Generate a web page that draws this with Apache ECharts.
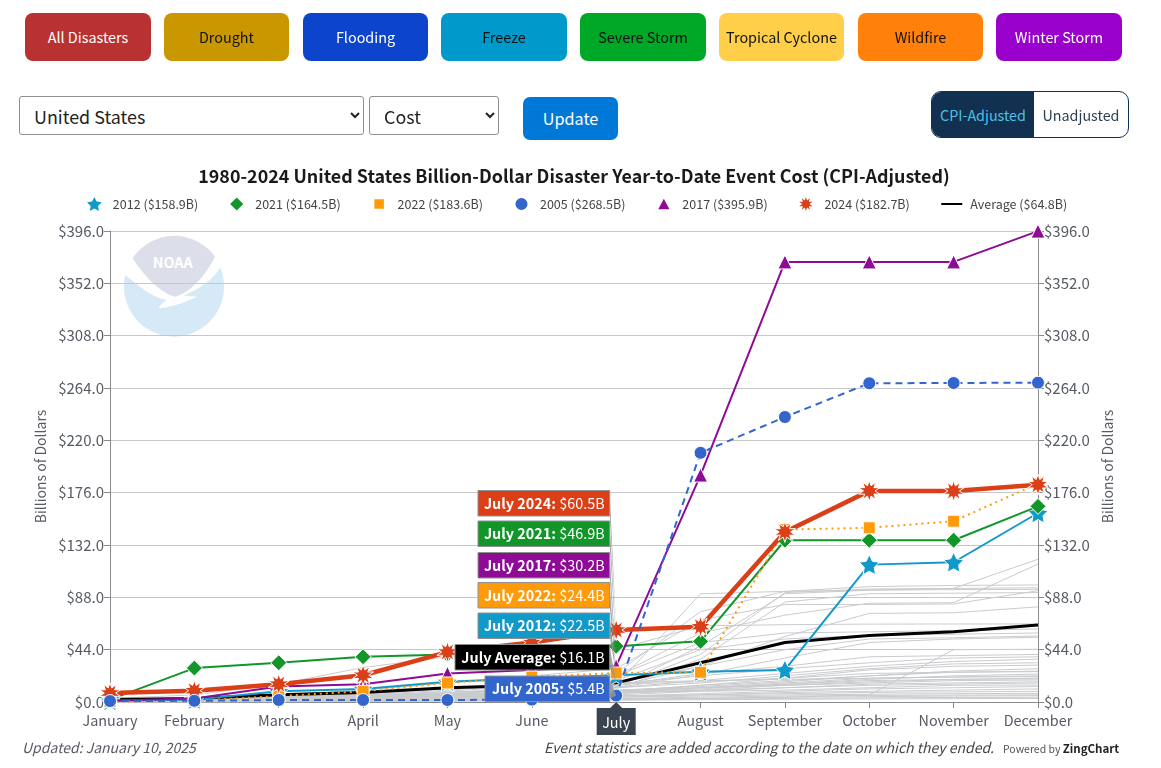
<!DOCTYPE html>
<html><head><meta charset="utf-8">
<script src="https://cdn.jsdelivr.net/npm/echarts@6/dist/echarts.min.js"></script>
<style>
html,body{margin:0;padding:0;background:#fff;font-family:"Noto Sans CJK SC","Noto Sans",sans-serif;}
#logo{position:absolute;left:100px;top:225px;width:150px;height:120px;}
#chart{position:absolute;left:0;top:0;width:1161px;height:768px;}
.b{position:absolute;top:13px;height:48px;line-height:47px;border-radius:8px;text-align:center;font-size:14.4px;color:#111;white-space:nowrap;}
.w{color:#fff;}
select{position:absolute;top:96px;height:39px;font:17.9px "Noto Sans CJK SC";background:#fff;color:#222;border:1px solid #8f8f8f;border-radius:3px;padding:0 10px;box-sizing:border-box;}
#up{position:absolute;left:523px;top:97px;width:95px;height:43px;line-height:43px;background:#0078d7;color:#fff;border-radius:7px;text-align:center;font-size:16.2px;}
#tg{position:absolute;left:931px;top:91px;width:198px;height:47px;box-sizing:border-box;border:1px solid #12304f;border-radius:10px;overflow:hidden;font-size:14.3px;line-height:45px;}
#tg div{position:absolute;top:0;height:100%;text-align:center;}
</style></head><body>
<svg id="logo" viewBox="0 0 450 360">
  <circle cx="222" cy="185" r="150" fill="#d6e9f7"/>
  <path d="M98 100 A150 150 0 0 1 345 95 C320 150 270 205 225 215 C180 205 130 150 98 100Z" fill="#dcdfe9"/>
  <path d="M88 88 L68 145 C105 170 145 215 200 225 C190 232 180 240 175 250 C230 245 265 225 292 215 L250 212 C300 190 340 165 362 125 L350 85 C320 150 270 205 225 215 C180 205 130 150 98 100Z" fill="#fff"/>
  <text x="218" y="130" text-anchor="middle" font-family="Noto Sans CJK SC" font-weight="700" font-size="43" fill="#fff">NOAA</text>
</svg>
<div id="chart"></div>
<div class="b w" style="left:25px;width:126px;background:#b83232">All Disasters</div>
<div class="b" style="left:164px;width:125px;background:#c99700">Drought</div>
<div class="b w" style="left:303px;width:125px;background:#0c45cc">Flooding</div>
<div class="b" style="left:441px;width:126px;background:#0099cc">Freeze</div>
<div class="b" style="left:580px;width:126px;background:#00a827">Severe Storm</div>
<div class="b" style="left:719px;width:125px;background:#ffcf4a">Tropical Cyclone</div>
<div class="b" style="left:858px;width:125px;background:#ff800b">Wildfire</div>
<div class="b w" style="left:996px;width:126px;background:#9900cc">Winter Storm</div>
<select style="left:19px;width:345px"><option>United States</option></select>
<select style="left:369px;width:130px"><option>Cost</option></select>
<div id="up">Update</div>
<div id="tg"><div style="left:0;width:102px;background:#12304f;color:#4fc0e6">CPI-Adjusted</div><div style="left:102px;width:94px;color:#2c3e50">Unadjusted</div></div>
<script>
const months=['January','February','March','April','May','June','July','August','September','October','November','December'];
const yTicksMax=396, yTickStep=44;
const y2012=[1,2,9,11,17,20,22.5,25.5,27,115.5,117.5,158.9];
const y2021=[2,28.5,33,38,40,44,46.9,51,136,136,136,164.5];
const y2022=[0.3,1,5,9,16,21,24.4,25,145,146.5,152,183.6];
const y2005=[0.8,1,1.7,1.7,1.7,2,5.4,209.5,239.6,268,268.2,268.5];
const y2017=[1,3,13,15,24,27,30.2,190.8,370,370,370,395.9];
const y2024=[7.5,9.5,15,22.5,42,50,60.5,63.3,143,177.5,177.4,182.7];
const yAverage=[2,3,6,8,12,14,16.1,33,50,56,59,64.8];
const legendNames=['2012 ($158.9B)','2021 ($164.5B)','2022 ($183.6B)','2005 ($268.5B)','2017 ($395.9B)','2024 ($182.7B)','Average ($64.8B)'];
const tipLabels=['July 2024:','July 2021:','July 2017:','July 2022:','July 2012:','July Average:','July 2005:'];
const tipValues=['$60.5B','$46.9B','$30.2B','$24.4B','$22.5B','$16.1B','$5.4B'];
const g01=[0.5,1,2,4,7,10,14,91,93,94,95.5,120];
const g02=[0.3,1,3,5,9,14,22,58,73,83,83.5,116];
const g03=[1,2,4,6,10,15,24,76,93,97,98,98.4];
const g04=[0.2,0.6,1.5,3,6,9,13,40,92,95,95.5,96];
const g05=[0.5,1,2,3,5,8,12,47,91,94,94.5,94.7];
const g06=[0.8,3,6,10,16,22,28,69,82,82,82.4,93.6];
const g07=[0.2,0.5,1,2,4,7,11,36,84,91,91.5,92];
const g08=[0.5,1.5,3,5,8,11,16,30,55,74.5,75,80];
const g09=[3,6,15,29,38,41,44,64,65,65.5,65.6,65.6];
const g10=[1,2,4,7,11,16,22,50,58,59,60,61.4];
const g11=[0.5,1,3,5,8,12,18,44,53,56,57,58];
const g12=[0.4,1,2,4,6,9,13,30,44,53,54,55.5];
const g13=[0.2,0.8,2,3,5,8,12,23,37,50,53,54.4];
const g14=[0.1,0.3,0.6,1,1.5,2,2.5,3,4,6,44,44.3];
const g15=[0.5,1,2,3,6,9,14,24,30,38,39,40];
const g16=[0.3,0.8,2,4,7,11,15,22,28,33,37,38];
const g17=[0.2,1,2,3,5,8,12,18,24,30,34,36];
const g18=[0.6,2,4,6,8,10,12,16,22,28,32,33];
const g19=[0.4,1,2,3,4,6,9,14,20,27,30,31];
const g20=[0.3,1,2,4,6,8,10,13,17,22,26,28];
const g21=[0.5,2,5,8,11,13,15,17,20,24,25,26];
const g22=[0.2,0.6,1,2,4,6,9,14,18,22,25,25.5];
const g23=[0.3,0.9,2,3,5,7,8,11,15,19,22,23.5];
const g24=[0.1,0.5,1,3,5,7,9,12,16,20,21,22];
const g25=[1,3,6,9,12,14,16,18,19,20,21,21.3];
const g26=[0.4,1,2,3,4,5,7,10,14,17,19,20];
const g27=[0.2,0.7,1.5,3,5,6,8,12,15,18,19,19.5];
const g28=[0.6,2,3,5,7,8,10,12,14,16,18,18.5];
const g29=[0.1,0.4,1,2,3,5,6,9,12,15,16,17];
const g30=[0.3,1,2,3,4,6,8,10,12,14,15,16];
const g31=[0.5,1.5,3,4,6,7,8,9,10,12,14,14.3];
const g32=[0.2,0.5,1,2,3,4,5,7,9,11,12,13];
const g33=[0.1,0.3,0.7,1,2,3,4,6,8,9,10,11];
const g34=[0.4,1,2,2.5,3,4,5,6,7,8,8.5,9];
const g35=[0.2,0.4,1,1.5,2,3,4,5,6,6.5,7,7.3];
const g36=[0.1,0.3,0.5,1,1.5,2,3,4,5,5.5,5.8,6];
const g37=[0.1,0.2,0.4,0.8,1,2,2.5,3,4,4.5,5,5.3];
const g38=[0.1,0.2,0.3,0.5,1,1.5,2,2.5,3,3.5,3.8,4];
const g39=[0,0.1,0.2,0.4,0.6,1,1.5,2,2.3,2.6,2.8,3];
const grayRows=[g01,g02,g03,g04,g05,g06,g07,g08,g09,g10,g11,g12,g13,g14,g15,g16,g17,g18,g19,g20,g21,g22,g23,g24,g25,g26,g27,g28,g29,g30,g31,g32,g33,g34,g35,g36,g37,g38,g39];

const FONT='"Noto Sans CJK SC"';
function starPath(n,inner){
  let d='';
  for(let i=0;i<n*2;i++){
    const r=i%2?inner:1, a=-Math.PI/2+i*Math.PI/n;
    d+=(i?'L':'M')+(50+50*r*Math.cos(a)).toFixed(2)+' '+(50+50*r*Math.sin(a)).toFixed(2);
  }
  return 'path://'+d+'Z';
}
const STAR=starPath(5,0.5), BURST=starPath(10,0.52);
const c={y2012:'#1199c9',y2021:'#12962a',y2022:'#ff9a0a',y2005:'#3366cc',y2017:'#8e0b96',y2024:'#da3f18'};
function hi(name,data,color,sym,size,width,type,z){
  return {name,type:'line',data,yAxisIndex:0,symbol:sym,symbolSize:size,showAllSymbol:true,silent:true,z,
    lineStyle:{color,width,type},
    itemStyle:{color,borderColor:'#fff',borderWidth:1,opacity:1},emphasis:{disabled:true}};
}
const series=grayRows.map(r=>({name:'',type:'line',data:r,symbol:'none',silent:true,z:2,lineStyle:{color:'#c9cbce',width:1},emphasis:{disabled:true}}));
series.push({name:legendNames[6],type:'line',data:yAverage,symbol:'none',silent:true,z:3,itemStyle:{color:'#000'},lineStyle:{color:'#000',width:3},emphasis:{disabled:true}});
series.push(hi(legendNames[0],y2012,c.y2012,STAR,20,2,'solid',4));
series.push(hi(legendNames[1],y2021,c.y2021,'diamond',16,2,'solid',5));
series.push(hi(legendNames[4],y2017,c.y2017,'triangle',14,2,'solid',6));
series.push(hi(legendNames[2],y2022,c.y2022,'rect',12,2,[2,4],7));
series.push(hi(legendNames[5],y2024,c.y2024,BURST,21,4.5,'solid',8));
series.push(hi(legendNames[3],y2005,c.y2005,'circle',13,2,[7,5],9));

const PAD='M0 0M100 100';
const DIAMOND='path://'+PAD+'M50 3L97 50L50 97L3 50Z', SQUARE='path://'+PAD+'M16 16H84V84H16Z', TRI='path://'+PAD+'M50 12L90 88H10Z', DOT='path://'+PAD+'M50 7A43 43 0 1 1 49.9 7Z';
const icons=[STAR,DIAMOND,SQUARE,DOT,TRI,BURST,'path://M0 0H21V2H0Z'];
const colorsL=[c.y2012,c.y2021,c.y2022,c.y2005,c.y2017,c.y2024,'#000'];
const labelColor='#555a63';
const yl={show:true,color:labelColor,fontFamily:FONT,fontSize:15,margin:6,formatter:v=>'$'+v.toFixed(1)};
const chart=echarts.init(document.getElementById('chart'),null,{renderer:'canvas'});
chart.setOption({
  animation:false,
  title:{text:'1980-2024 United States Billion-Dollar Disaster Year-to-Date Event Cost (CPI-Adjusted)',left:569,top:162,textAlign:'center',
    textStyle:{fontFamily:FONT,fontSize:17.9,fontWeight:'bold',color:'#1a1a1a'}},
  legend:{left:82,top:192,itemWidth:21,itemHeight:14,itemGap:31.5,selectedMode:false,
    textStyle:{fontFamily:FONT,fontSize:12.5,color:'#444',padding:[0,0,0,3]},
    data:legendNames.map((n,i)=>({name:n,icon:icons[i],itemStyle:{color:colorsL[i],borderWidth:0}}))},
  grid:{left:110,right:123,top:231,bottom:66},
  xAxis:{type:'category',boundaryGap:false,data:months,
    axisLine:{lineStyle:{color:'#8a8a8a',width:1}},axisTick:{show:true,length:6,lineStyle:{color:'#8a8a8a'}},splitLine:{show:false},
    axisLabel:{color:labelColor,fontFamily:FONT,fontSize:14.4,margin:11,interval:0,
      formatter:v=>v==='July'?'{hi|'+v+'}':v,
      rich:{hi:{color:'#fff',fontFamily:FONT,fontSize:14.4,padding:[2,0,0,0]}}}},
  yAxis:[
    {type:'value',min:0,max:yTicksMax,interval:yTickStep,position:'left',name:'Billions of Dollars',nameLocation:'middle',nameGap:62,
     nameTextStyle:{color:labelColor,fontFamily:FONT,fontSize:14},
     axisLine:{show:true,lineStyle:{color:'#8a8a8a'}},axisTick:{show:true,length:6,lineStyle:{color:'#8a8a8a'}},
     splitLine:{show:true,lineStyle:{color:'#c6c6c6',width:1}},axisLabel:yl},
    {type:'value',min:0,max:yTicksMax,interval:yTickStep,position:'right',name:'Billions of Dollars',nameLocation:'middle',nameGap:61,
     nameTextStyle:{color:labelColor,fontFamily:FONT,fontSize:14},
     axisLine:{show:true,lineStyle:{color:'#8a8a8a'}},axisTick:{show:true,length:6,lineStyle:{color:'#8a8a8a'}},
     splitLine:{show:false},axisLabel:yl}
  ],
  series
});

/* July call-outs, anchored to the plotted July values */
const tipSeries=[y2024,y2021,y2017,y2022,y2012,yAverage,y2005];
const tipColors=[c.y2024,c.y2021,c.y2017,c.y2022,c.y2012,'#000',c.y2005];
const tipTops=[490.5,521,552.5,582.5,613,644.5,676];
const tipLefts=[478,478,478,478,478,455,485];
const jul=months.indexOf('July');
const gfx=[];
tipSeries.forEach((arr,i)=>{
  const p=chart.convertToPixel({xAxisIndex:0,yAxisIndex:0},[months[jul],arr[jul]]);
  const right=p[0]-6.5, t=tipTops[i], h=25.5;
  gfx.push({type:'polygon',z:20,silent:true,shape:{points:[[right,t+3],[right,t+h-3],[p[0],p[1]]]},style:{fill:'#959595',opacity:0.85}});
  gfx.push({type:'rect',z:21,silent:true,shape:{x:tipLefts[i],y:t,width:right-tipLefts[i],height:h},style:{fill:tipColors[i],stroke:'#8f8f8f',lineWidth:1}});
  gfx.push({type:'text',z:22,silent:true,x:right-5,y:t+h/2,style:{text:'{a|'+tipLabels[i]+'} {b|'+tipValues[i]+'}',align:'right',verticalAlign:'middle',
    rich:{a:{fontFamily:FONT,fontSize:14.4,fontWeight:'bold',fill:'#fff',color:'#fff'},b:{fontFamily:FONT,fontSize:14.4,fill:'#fff',color:'#fff'}}}});
});
/* July highlight behind the axis label, with its pointer */
const pAx=chart.convertToPixel({xAxisIndex:0,yAxisIndex:0},[months[jul],0]);
gfx.push({type:'rect',z:-5,silent:true,shape:{x:pAx[0]-19.5,y:pAx[1]+6,width:39,height:27},style:{fill:'#3a4350'}});
gfx.push({type:'polygon',z:22,silent:true,shape:{points:[[pAx[0]-6,pAx[1]+6],[pAx[0]+6,pAx[1]+6],[pAx[0],pAx[1]]]},style:{fill:'#3a4350'}});
/* footer */
gfx.push({type:'text',x:22,y:748,silent:true,style:{text:'Updated: January 10, 2025',fontFamily:FONT,fontStyle:'italic',fontSize:14,fill:'#555a63',verticalAlign:'middle'}});
gfx.push({type:'text',x:994,y:748,silent:true,style:{text:'Event statistics are added according to the date on which they ended.',fontFamily:FONT,fontStyle:'italic',fontSize:14,fill:'#444',align:'right',verticalAlign:'middle'}});
gfx.push({type:'text',x:1003,y:749,silent:true,style:{text:'{p|Powered by }{z|ZingChart}',verticalAlign:'middle',
  rich:{p:{fontFamily:FONT,fontSize:10.5,fill:'#555',color:'#555'},z:{fontFamily:FONT,fontSize:11.5,fontWeight:'bold',fill:'#222',color:'#222'}}}});
chart.setOption({graphic:{elements:gfx}});
</script>
</body></html>
